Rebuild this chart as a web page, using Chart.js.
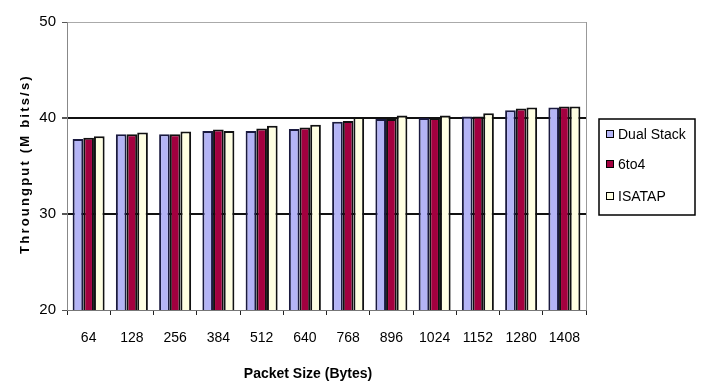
<!DOCTYPE html>
<html>
<head>
<meta charset="utf-8">
<script src="https://cdn.jsdelivr.net/npm/chart.js@4.4.1/dist/chart.umd.min.js"></script>
<style>
  html, body { margin: 0; padding: 0; background: #fff; }
  #wrap { width: 702px; height: 381px; position: relative; }
</style>
</head>
<body>
<div id="wrap"><canvas id="c" width="702" height="381"></canvas></div>
<script>
const categories = ['64', '128', '256', '384', '512', '640', '768', '896', '1024', '1152', '1280', '1408'];
const dualStack = [37.8, 38.3, 38.3, 38.65, 38.65, 38.85, 39.6, 39.9, 40.0, 40.15, 40.8, 41.1];
const sixToFour = [37.95, 38.3, 38.3, 38.8, 38.9, 39.0, 39.7, 39.9, 40.0, 40.15, 41.0, 41.2];
const isatap = [38.1, 38.5, 38.6, 38.65, 39.2, 39.3, 40.1, 40.25, 40.25, 40.5, 41.1, 41.2];
const yTicks = [20, 30, 40, 50];
const seriesNames = ['Dual Stack', '6to4', 'ISATAP'];
const xTitle = 'Packet Size (Bytes)';
const yTitle = 'Throungput (M bits/s)';

const FONT = '"Liberation Sans Narrow", "Liberation Sans", Arial, sans-serif';

const decor = {
  id: 'decor',
  afterDraw(chart) {
    const ctx = chart.ctx;
    const a = chart.chartArea;
    ctx.save();
    ctx.strokeStyle = '#999';
    ctx.lineWidth = 1;
    ctx.beginPath();
    ctx.moveTo(a.right + 0.5, a.top);
    ctx.lineTo(a.right + 0.5, a.bottom);
    ctx.stroke();

    ctx.fillStyle = '#000';
    ctx.font = 'bold 14px "Liberation Sans", Arial, sans-serif';
    ctx.textAlign = 'center';
    ctx.textBaseline = 'middle';
    ctx.fillText(xTitle, 308, 374);

    ctx.save();
    ctx.translate(25, 164);
    ctx.rotate(-Math.PI / 2);
    ctx.font = 'bold 13px "Liberation Sans", Arial, sans-serif';
    try { ctx.letterSpacing = '2.2px'; } catch (e) {}
    ctx.fillText(yTitle, 0, 0);
    ctx.restore();

    const lx = 599, ly = 119, lw = 96, lh = 96;
    ctx.strokeStyle = '#000';
    ctx.lineWidth = 1.5;
    ctx.strokeRect(lx, ly, lw, lh);
    const ys = [134, 164, 196];
    ctx.font = '14px ' + FONT;
    ctx.textAlign = 'left';
    chart.data.datasets.forEach((ds, i) => {
      ctx.fillStyle = ds.backgroundColor;
      ctx.fillRect(lx + 7, ys[i] - 4, 8, 8);
      ctx.strokeStyle = '#000';
      ctx.lineWidth = 1;
      ctx.strokeRect(lx + 7.5, ys[i] - 3.5, 7, 7);
      ctx.fillStyle = '#000';
      ctx.fillText(ds.label, lx + 19, ys[i] + 1);
    });
    ctx.restore();
  }
};

new Chart(document.getElementById('c'), {
  type: 'bar',
  data: {
    labels: categories,
    datasets: [
      { label: seriesNames[0], data: dualStack, backgroundColor: '#b4b4f6', borderColor: '#1a1a40', borderWidth: 2 },
      { label: seriesNames[1], data: sixToFour, backgroundColor: '#a3003f', borderColor: '#111', borderWidth: 2 },
      { label: seriesNames[2], data: isatap, backgroundColor: '#ffffe2', borderColor: '#111', borderWidth: 2 }
    ]
  },
  options: {
    responsive: false,
    animation: false,
    devicePixelRatio: 1,
    layout: { padding: { left: 0, top: 22, right: 116, bottom: 0 } },
    datasets: { bar: { categoryPercentage: 0.74, barPercentage: 1.0 } },
    plugins: { legend: { display: false }, tooltip: { enabled: false }, title: { display: false } },
    scales: {
      x: {
        offset: true,
        grid: { display: true, drawOnChartArea: false, drawTicks: true, tickLength: 5, offset: true, color: '#222', lineWidth: 1 },
        border: { display: true, color: '#777', width: 1 },
        ticks: { color: '#000', font: { family: FONT, size: 14 }, padding: 15, maxRotation: 0, autoSkip: false },
        afterFit(s) { s.height = 71; }
      },
      y: {
        min: 20, max: 50,
        afterBuildTicks(s) { s.ticks = yTicks.map(v => ({ value: v })); },
        grid: {
          drawTicks: true, tickLength: 5,
          color(c) { const v = c.tick && c.tick.value; return v === 50 ? '#aaa' : (v === 20 ? 'rgba(0,0,0,0)' : '#111'); },
          lineWidth(c) { const v = c.tick && c.tick.value; return (v === 30 || v === 40) ? 2 : 1; },
          tickColor: '#555'
        },
        border: { display: true, color: '#888', width: 1 },
        ticks: { color: '#000', font: { family: FONT, size: 15 }, padding: 6 },
        afterFit(s) { s.width = 67; }
      }
    }
  },
  plugins: [decor]
});
</script>
</body>
</html>
